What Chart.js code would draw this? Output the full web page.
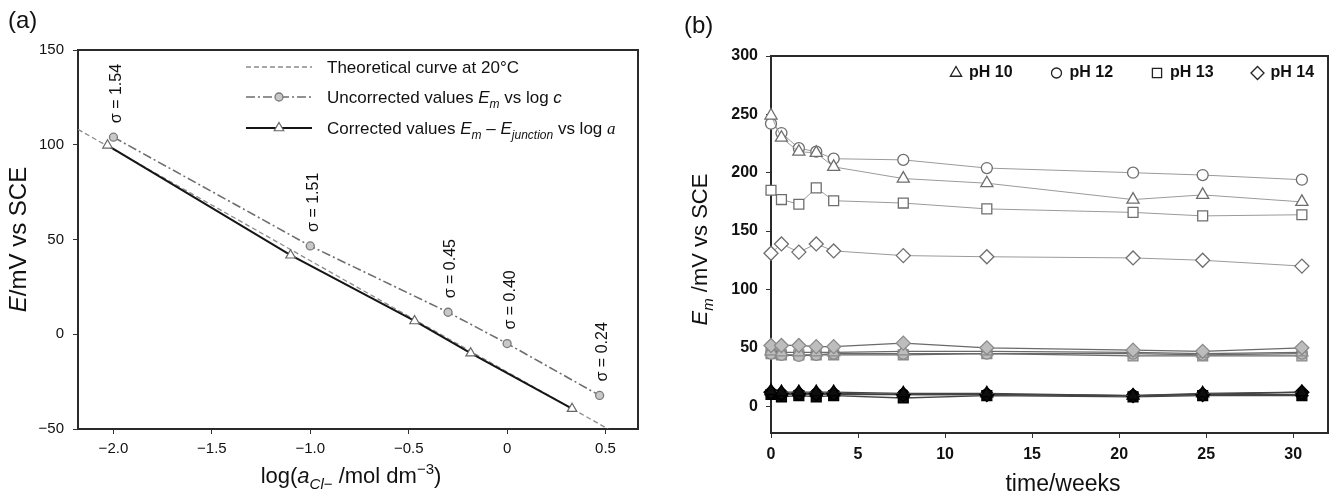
<!DOCTYPE html>
<html>
<head>
<meta charset="utf-8">
<script src="https://cdn.jsdelivr.net/npm/chart.js@4.4.1/dist/chart.umd.min.js"></script>
<style>
  body { margin: 0; background: #fff; }
  #wrap { position: relative; width: 1338px; height: 500px; }
  canvas { position: absolute; top: 0; }
</style>
</head>
<body>
<div id="wrap">
  <canvas id="chartA" width="669" height="500" style="left:0"></canvas>
  <canvas id="chartB" width="669" height="500" style="left:669px"></canvas>
</div>
<script>
// ---- panel (a) data ----
const theoryX = [-2.18, 0.513];
const theoryY = [108.1, -50];
const uncorrX = [-2.0, -1.0, -0.3, 0.0, 0.47];
const uncorrY = [104, 46.6, 11.6, -4.9, -32.3];
const sigmaText = ['σ = 1.54', 'σ = 1.51', 'σ = 0.45', 'σ = 0.40', 'σ = 0.24'];
const corrX = [-2.03, -1.1, -0.47, -0.185, 0.33];
const corrY = [99.7, 41.7, 7.0, -10, -39.3];
const aXTicks = [-2.0, -1.5, -1.0, -0.5, 0, 0.5];
const aYTicks = [-50, 0, 50, 100, 150];

// ---- panel (b) data ----
const weeks = [0, 0.6, 1.6, 2.6, 3.6, 7.6, 12.4, 20.8, 24.8, 30.5];
const ph10 = [249, 230, 218, 217, 205, 195, 191, 177, 181, 175];
const ph12 = [242, 234, 221, 218, 212, 211, 204, 200, 198, 194];
const ph13 = [185, 177, 173, 187, 176, 174, 169, 166, 163, 164];
const ph14 = [131, 139, 132, 139, 133, 129, 128, 127, 125, 120];
const ph10Gray = [47, 46, 46, 46, 46, 47, 47, 46, 45, 46];
const ph12Gray = [45, 44, 43, 44, 45, 45, 45, 45, 44, 45];
const ph13Gray = [45, 44, 44, 44, 44, 44, 45, 43, 43, 43];
const ph14Gray = [52, 52, 52, 51, 51, 54, 50, 48, 47, 50];
const ph10Black = [13, 12, 12, 12, 12, 11, 11, 9, 11, 12];
const ph12Black = [11, 10, 10, 10, 10, 10, 10, 9, 10, 10];
const ph13Black = [10, 8, 9, 8, 9, 7, 9, 8, 9, 9];
const ph14Black = [12, 11, 11, 11, 11, 10, 10, 9, 10, 12];
const bLegend = ['pH 10', 'pH 12', 'pH 13', 'pH 14'];
const bStyles = ['triangle', 'circle', 'rect', 'rectRot'];
const bXTicks = [0, 5, 10, 15, 20, 25, 30];
const bYTicks = [0, 50, 100, 150, 200, 250, 300];

const FONT = '"Liberation Sans", Arial, Helvetica, sans-serif';
Chart.defaults.font.family = FONT;
Chart.defaults.color = '#111';

function pts(xs, ys) { return xs.map((x, i) => ({ x: x, y: ys[i] })); }
function minus(v) { return (v < 0 ? '\u2212' : '') + Math.abs(v); }

// draws text made of styled pieces: n normal, i italic, isub italic subscript, sub, sup, iser serif italic
function richWidth(ctx, parts, size) {
  let w = 0;
  parts.forEach(p => { ctx.font = partFont(p[1], size); w += ctx.measureText(p[0]).width; });
  return w;
}
function partFont(st, size) {
  if (st === 'i') return 'italic ' + size + 'px ' + FONT;
  if (st === 'isub') return 'italic ' + Math.round(size * 0.68) + 'px ' + FONT;
  if (st === 'sub' || st === 'sup') return Math.round(size * 0.68) + 'px ' + FONT;
  if (st === 'iser') return 'italic ' + size + 'px "Liberation Serif", serif';
  return size + 'px ' + FONT;
}
function drawRich(ctx, parts, x, y, size, align) {
  let cx = align === 'center' ? x - richWidth(ctx, parts, size) / 2 : x;
  ctx.textAlign = 'left';
  ctx.textBaseline = 'alphabetic';
  parts.forEach(p => {
    ctx.font = partFont(p[1], size);
    let dy = 0;
    if (p[1] === 'isub' || p[1] === 'sub') dy = size * 0.28;
    if (p[1] === 'sup') dy = -size * 0.42;
    ctx.fillText(p[0], cx, y + dy);
    cx += ctx.measureText(p[0]).width;
  });
}

function frame(chart, width) {
  const a = chart.chartArea, ctx = chart.ctx;
  ctx.save();
  ctx.strokeStyle = '#2a2a2a';
  ctx.lineWidth = width;
  ctx.strokeRect(a.left, a.top, a.right - a.left, a.bottom - a.top);
  ctx.restore();
}

// ---------------- chart (a) ----------------
const decorA = {
  id: 'decorA',
  beforeDatasetsDraw(chart) { frame(chart, 2); },
  afterDraw(chart) {
    const ctx = chart.ctx, xs = chart.scales.x, ys = chart.scales.y;
    ctx.save();
    ctx.fillStyle = '#111';
    // panel tag
    ctx.font = '24px ' + FONT;
    ctx.textAlign = 'left';
    ctx.fillText('(a)', 8, 28);

    // sigma labels above uncorrected points
    ctx.font = '16px ' + FONT;
    uncorrX.forEach((v, i) => {
      const px = xs.getPixelForValue(v) + 3, py = ys.getPixelForValue(uncorrY[i]) - 14;
      ctx.save();
      ctx.translate(px, py);
      ctx.rotate(-Math.PI / 2);
      ctx.textAlign = 'left';
      ctx.textBaseline = 'middle';
      ctx.fillText(sigmaText[i], 0, 0);
      ctx.restore();
    });

    // legend
    const a = chart.chartArea;
    const lx0 = a.left + 168, lx1 = a.left + 234, tx = a.left + 249;
    const rows = [a.top + 17, a.top + 47, a.top + 78];
    const ds = chart.data.datasets;
    const legendDs = [ds[2], ds[1], ds[0]];
    legendDs.forEach((d, i) => {
      ctx.save();
      ctx.strokeStyle = d.borderColor;
      ctx.lineWidth = d.borderWidth;
      ctx.setLineDash(d.borderDash || []);
      ctx.beginPath();
      ctx.moveTo(lx0, rows[i]);
      ctx.lineTo(lx1, rows[i]);
      ctx.stroke();
      ctx.setLineDash([]);
      if (d.pointRadius > 0) {
        ctx.fillStyle = d.pointBackgroundColor;
        ctx.strokeStyle = d.pointBorderColor;
        ctx.lineWidth = d.pointBorderWidth;
        Chart.helpers.drawPoint(ctx, { pointStyle: d.pointStyle, radius: d.pointRadius, borderWidth: d.pointBorderWidth }, (lx0 + lx1) / 2, rows[i]);
      }
      ctx.restore();
    });
    ctx.fillStyle = '#111';
    const s = 17;
    drawRich(ctx, [['Theoretical curve at 20°C', 'n']], tx, rows[0] + 6, s, 'left');
    drawRich(ctx, [['Uncorrected values ', 'n'], ['E', 'i'], ['m', 'isub'], [' vs log ', 'n'], ['c', 'i']], tx, rows[1] + 6, s, 'left');
    drawRich(ctx, [['Corrected values ', 'n'], ['E', 'i'], ['m', 'isub'], [' \u2013 ', 'n'], ['E', 'i'], ['junction', 'isub'], [' vs log ', 'n'], ['a', 'iser']], tx, rows[2] + 6, s, 'left');

    // axis titles
    drawRich(ctx, [['log(', 'n'], ['a', 'i'], ['Cl', 'isub'], ['\u2212', 'sub'], [' /mol dm', 'n'], ['\u22123', 'sup'], [')', 'n']], 351, 483, 22, 'center');
    ctx.save();
    ctx.translate(26, (a.top + a.bottom) / 2);
    ctx.rotate(-Math.PI / 2);
    drawRich(ctx, [['E', 'i'], ['/mV vs SCE', 'n']], 0, 0, 24, 'center');
    ctx.restore();
    ctx.restore();
  }
};

new Chart(document.getElementById('chartA'), {
  type: 'scatter',
  data: {
    datasets: [
      { label: 'Corrected', data: pts(corrX, corrY), showLine: true, borderColor: '#151515', borderWidth: 2,
        pointStyle: 'triangle', pointRadius: 5.5, pointBackgroundColor: '#ffffff', pointBorderColor: '#666', pointBorderWidth: 1.2 },
      { label: 'Uncorrected', data: pts(uncorrX, uncorrY), showLine: true, borderColor: '#6e6e6e', borderWidth: 1.6,
        borderDash: [9, 3, 2, 3], pointStyle: 'circle', pointRadius: 4, pointBackgroundColor: '#c8c8c8',
        pointBorderColor: '#7a7a7a', pointBorderWidth: 1.3 },
      { label: 'Theoretical', data: pts(theoryX, theoryY), showLine: true, borderColor: '#8c8c8c', borderWidth: 1.3,
        borderDash: [5, 3], pointRadius: 0 }
    ]
  },
  options: {
    responsive: false,
    animation: false,
    devicePixelRatio: 1,
    layout: { padding: { top: 50, right: 31, left: 0, bottom: 0 } },
    plugins: { legend: { display: false }, tooltip: { enabled: false } },
    scales: {
      x: {
        type: 'linear', min: -2.18, max: 0.665,
        afterFit: s => { s.height = 71; },
        afterBuildTicks: s => { s.ticks = aXTicks.map(v => ({ value: v })); },
        grid: { drawOnChartArea: false, color: '#333', tickLength: 5 },
        border: { display: false },
        ticks: { font: { size: 15 }, padding: 6, maxRotation: 0,
          callback: v => v === 0 ? '0' : (v < 0 ? '\u2212' : '') + Math.abs(v).toFixed(1) }
      },
      y: {
        type: 'linear', min: -50, max: 150,
        afterFit: s => { s.width = 78; },
        afterBuildTicks: s => { s.ticks = aYTicks.map(v => ({ value: v })); },
        grid: { drawOnChartArea: false, color: '#333', tickLength: 5 },
        border: { display: false },
        ticks: { font: { size: 15 }, padding: 9, callback: v => minus(v) }
      }
    }
  },
  plugins: [decorA]
});

// ---------------- chart (b) ----------------
function series(vals, style, kind) {
  const open = kind === 'open', gray = kind === 'gray';
  const r = style === 'circle' ? 5.5 : 7;
  return {
    data: pts(weeks, vals), showLine: true, clip: false,
    borderColor: open ? '#9a9a9a' : (gray ? '#6a6a6a' : '#444'), borderWidth: open ? 1 : 1.3,
    pointStyle: style, pointRadius: r,
    pointBackgroundColor: open ? '#ffffff' : (gray ? '#bdbdbd' : '#0d0d0d'),
    pointBorderColor: open ? '#6e6e6e' : (gray ? '#8a8a8a' : '#000'),
    pointBorderWidth: 1.3
  };
}

const decorB = {
  id: 'decorB',
  beforeDatasetsDraw(chart) { frame(chart, 2); },
  afterDraw(chart) {
    const ctx = chart.ctx, a = chart.chartArea;
    ctx.save();
    ctx.fillStyle = '#111';
    ctx.font = '24px ' + FONT;
    ctx.textAlign = 'left';
    ctx.fillText('(b)', 15, 33);

    // legend
    const y = a.top + 17;
    bLegend.forEach((t, i) => {
      const mx = a.left + 185 + i * 100.5;
      ctx.fillStyle = '#fff';
      ctx.strokeStyle = '#222';
      ctx.lineWidth = 1.3;
      const r = bStyles[i] === 'circle' ? 5 : 6.5;
      Chart.helpers.drawPoint(ctx, { pointStyle: bStyles[i], radius: r, borderWidth: 1.3 }, mx, y);
      ctx.fillStyle = '#111';
      ctx.font = 'bold 16px ' + FONT;
      ctx.textBaseline = 'middle';
      ctx.fillText(t, mx + 13, y);
    });
    ctx.textBaseline = 'alphabetic';

    drawRich(ctx, [['time/weeks', 'n']], 394, 491, 23, 'center');
    ctx.save();
    ctx.translate(38, (a.top + a.bottom) / 2 + 5);
    ctx.rotate(-Math.PI / 2);
    drawRich(ctx, [['E', 'i'], ['m', 'isub'], [' /mV vs SCE', 'n']], 0, 0, 22, 'center');
    ctx.restore();
    ctx.restore();
  }
};

new Chart(document.getElementById('chartB'), {
  type: 'scatter',
  data: {
    datasets: [
      series(ph10, 'triangle', 'open'),
      series(ph12, 'circle', 'open'),
      series(ph13, 'rect', 'open'),
      series(ph14, 'rectRot', 'open'),
      series(ph14Gray, 'rectRot', 'gray'),
      series(ph10Gray, 'triangle', 'gray'),
      series(ph12Gray, 'circle', 'gray'),
      series(ph13Gray, 'rect', 'gray'),
      series(ph10Black, 'triangle', 'black'),
      series(ph14Black, 'rectRot', 'black'),
      series(ph12Black, 'circle', 'black'),
      series(ph13Black, 'rect', 'black')
    ]
  },
  options: {
    responsive: false,
    animation: false,
    devicePixelRatio: 1,
    layout: { padding: { top: 56, right: 10, left: 0, bottom: 0 } },
    plugins: { legend: { display: false }, tooltip: { enabled: false } },
    scales: {
      x: {
        type: 'linear', min: 0, max: 32,
        afterFit: s => { s.height = 67; },
        afterBuildTicks: s => { s.ticks = bXTicks.map(v => ({ value: v })); },
        grid: { drawOnChartArea: false, color: '#333', tickLength: 5 },
        border: { display: false },
        ticks: { font: { size: 16, weight: 'bold' }, padding: 7, maxRotation: 0 }
      },
      y: {
        type: 'linear', min: -23, max: 300,
        afterFit: s => { s.width = 102; },
        afterBuildTicks: s => { s.ticks = bYTicks.map(v => ({ value: v })); },
        grid: { drawOnChartArea: false, color: '#333', tickLength: 5 },
        border: { display: false },
        ticks: { font: { size: 16, weight: 'bold' }, padding: 8 }
      }
    }
  },
  plugins: [decorB]
});
</script>
</body>
</html>
